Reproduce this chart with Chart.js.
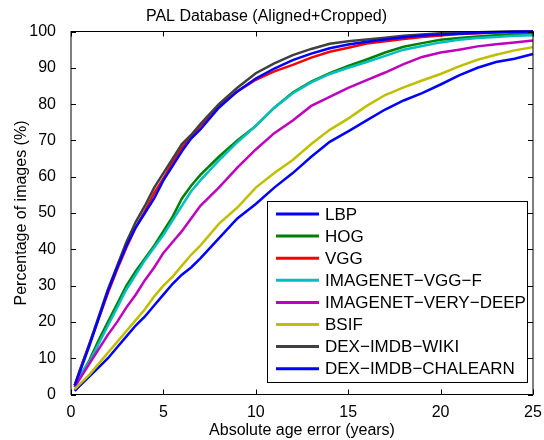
<!DOCTYPE html>
<html>
<head>
<meta charset="utf-8">
<script src="https://cdn.jsdelivr.net/npm/chart.js@4"></script>
<style>
  html, body { margin: 0; padding: 0; background: #fff; }
  #wrap { width: 544px; height: 440px; }
</style>
</head>
<body>
<div id="wrap"><canvas id="cdfChart" width="544" height="440"></canvas></div>
<script>
// absolute age error (years) sample points
const errorYears = [0.2, 0.5, 1, 1.5, 2, 2.5, 3, 3.5, 4, 4.5, 5, 5.5, 6, 6.5, 7, 8, 9, 10, 11, 12, 13, 14, 15, 16, 17, 18, 19, 20, 21, 22, 23, 24, 25];

// percentage of images per method
const lbp = [1, 2.5, 5, 7.5, 10, 13, 16, 19, 21.5, 24.5, 27.5, 30.5, 33, 35, 37.5, 43, 48.5, 52.5, 57, 61, 65.5, 69.6, 72.5, 75.5, 78.5, 81, 83, 85.4, 87.9, 90, 91.6, 92.5, 93.8];
const hog = [2, 5, 9.5, 15, 20, 25, 30, 34, 37.5, 41, 45, 49, 54, 57.5, 60.5, 65.5, 70, 74, 79, 83.2, 86.2, 88.5, 90.5, 92.3, 94.2, 95.8, 96.8, 97.7, 98.2, 98.6, 99, 99.3, 99.6];
const vgg = [2.5, 7, 14, 21, 28, 34.5, 40.5, 46, 50.5, 55.5, 59.5, 64, 68, 71, 74, 79.5, 83.5, 86.7, 89, 90.8, 92.8, 94.4, 95.5, 96.7, 97.3, 97.9, 98.5, 98.9, 99.3, 99.5, 99.7, 99.9, 100];
const imagenetVggF = [2.5, 5.5, 9, 14, 19, 24, 29, 33, 37, 40.5, 44, 48, 52, 56, 59, 64.5, 69.5, 74, 79, 83, 86, 88.3, 90, 91.6, 93.3, 95, 96, 97, 97.7, 98.2, 98.5, 98.8, 99];
const imagenetVeryDeep = [2, 4.5, 8.5, 12.5, 16.5, 20, 24, 27.5, 31.5, 35, 39, 42, 45, 48.5, 52, 57, 62.5, 67.5, 72, 75.5, 79.5, 82, 84.5, 86.6, 88.7, 91, 93, 94.2, 95, 95.9, 96.5, 97, 97.5];
const bsif = [1.5, 3, 5.5, 8.5, 11.5, 14.5, 17.5, 20.5, 23.5, 27, 30, 32.5, 35.5, 38.5, 41, 47, 51.5, 57, 61, 64.6, 69, 72.9, 76, 79.5, 82.5, 84.6, 86.5, 88.3, 90.4, 92.2, 93.6, 94.8, 95.7];
const dexImdbWiki = [2.5, 7, 14, 21.5, 29, 35.5, 42, 47.5, 52, 57, 61, 65, 69, 71.5, 74.5, 80, 84.5, 88.5, 91.2, 93.5, 95.2, 96.6, 97.3, 97.8, 98.3, 98.8, 99.2, 99.5, 99.7, 99.8, 99.9, 100, 100];
const dexImdbChalearn = [2.5, 6.5, 13.5, 21, 28.5, 35, 41, 46, 50, 54, 59, 63, 67, 70.5, 73, 79, 83.5, 87, 89.8, 92.1, 93.9, 95.4, 96.4, 97.2, 97.8, 98.4, 98.9, 99.2, 99.4, 99.6, 99.8, 99.9, 100];

const methodNames = ['LBP', 'HOG', 'VGG', 'IMAGENET\u2212VGG\u2212F', 'IMAGENET\u2212VERY\u2212DEEP', 'BSIF', 'DEX\u2212IMDB\u2212WIKI', 'DEX\u2212IMDB\u2212CHALEARN'];
const methodValues = [lbp, hog, vgg, imagenetVggF, imagenetVeryDeep, bsif, dexImdbWiki, dexImdbChalearn];
const methodColors = ['#0000ff', '#008000', '#ff0000', '#00bfbf', '#bf00bf', '#bfbf00', '#404040', '#0000ff'];

const FONT = '"Liberation Sans", Arial, Helvetica, sans-serif';

// 内向刻度、外框和图例
const framePlugin = {
    id: 'framePlugin',
    afterDatasetsDraw(chart) {
        const { ctx, chartArea: a, scales: { x, y } } = chart;
        ctx.save();
        ctx.strokeStyle = '#000';
        ctx.lineWidth = 1;
        ctx.strokeRect(a.left, a.top, a.right - a.left, a.bottom - a.top);

        const len = 5;
        ctx.beginPath();
        x.ticks.forEach(t => {
            const px = Math.round(x.getPixelForValue(t.value)) + 0.5;
            ctx.moveTo(px, a.bottom); ctx.lineTo(px, a.bottom - len);
            ctx.moveTo(px, a.top); ctx.lineTo(px, a.top + len);
        });
        y.ticks.forEach(t => {
            const py = Math.round(y.getPixelForValue(t.value)) + 0.5;
            ctx.moveTo(a.left, py); ctx.lineTo(a.left + len, py);
            ctx.moveTo(a.right, py); ctx.lineTo(a.right - len, py);
        });
        ctx.stroke();

        // legend box
        const boxW = 260, boxH = 181;
        const bx = a.right - 6 - boxW;
        const by = a.bottom - 12.5 - boxH;
        ctx.fillStyle = '#fff';
        ctx.fillRect(bx, by, boxW, boxH);
        ctx.strokeStyle = '#000';
        ctx.lineWidth = 1;
        ctx.strokeRect(Math.round(bx) + 0.5, Math.round(by) + 0.5, boxW, boxH);

        ctx.font = '17px ' + FONT;
        ctx.textBaseline = 'middle';
        ctx.textAlign = 'left';
        chart.data.datasets.forEach((ds, i) => {
            const ry = by + 13 + i * 22.1;
            ctx.strokeStyle = ds.borderColor;
            ctx.lineWidth = 3;
            ctx.beginPath();
            ctx.moveTo(bx + 9, ry);
            ctx.lineTo(bx + 52, ry);
            ctx.stroke();
            ctx.fillStyle = '#000';
            ctx.fillText(ds.label, bx + 58, ry + 1);
        });
        ctx.restore();
    }
};

const datasets = methodNames.map((name, i) => ({
    label: name,
    data: errorYears.map((e, j) => ({ x: e, y: methodValues[i][j] })),
    borderColor: methodColors[i],
    backgroundColor: methodColors[i],
    borderWidth: 2.5,
    pointRadius: 0,
    tension: 0,
    fill: false,
    clip: 4,
    order: methodNames.length - i
}));

const ctx = document.getElementById('cdfChart').getContext('2d');
new Chart(ctx, {
    type: 'line',
    data: { datasets: datasets },
    options: {
        responsive: false,
        animation: false,
        layout: { padding: { left: 0, right: 11, top: 0, bottom: 0 } },
        plugins: {
            legend: { display: false },
            tooltip: { enabled: false },
            title: {
                display: true,
                text: 'PAL Database (Aligned+Cropped)',
                color: '#000',
                font: { family: FONT, size: 16, weight: 'normal' },
                padding: { top: 7, bottom: 5.3 }
            }
        },
        scales: {
            x: {
                type: 'linear',
                min: 0,
                max: 25,
                grid: { display: false },
                border: { display: false },
                ticks: { stepSize: 5, color: '#000', padding: 0, font: { family: FONT, size: 16 } },
                title: { display: true, text: 'Absolute age error (years)', color: '#000', padding: { top: 0, bottom: 0 }, font: { family: FONT, size: 16 } },
                afterFit(scale) { scale.height = 45.5; }
            },
            y: {
                min: 0,
                max: 100,
                grid: { display: false },
                border: { display: false },
                ticks: { stepSize: 10, color: '#000', padding: 7, font: { family: FONT, size: 16 } },
                title: { display: true, text: 'Percentage of images (%)', color: '#000', padding: { top: 12, bottom: 0 }, font: { family: FONT, size: 16 } },
                afterFit(scale) { scale.width = 71; }
            }
        }
    },
    plugins: [framePlugin]
});
</script>
</body>
</html>
